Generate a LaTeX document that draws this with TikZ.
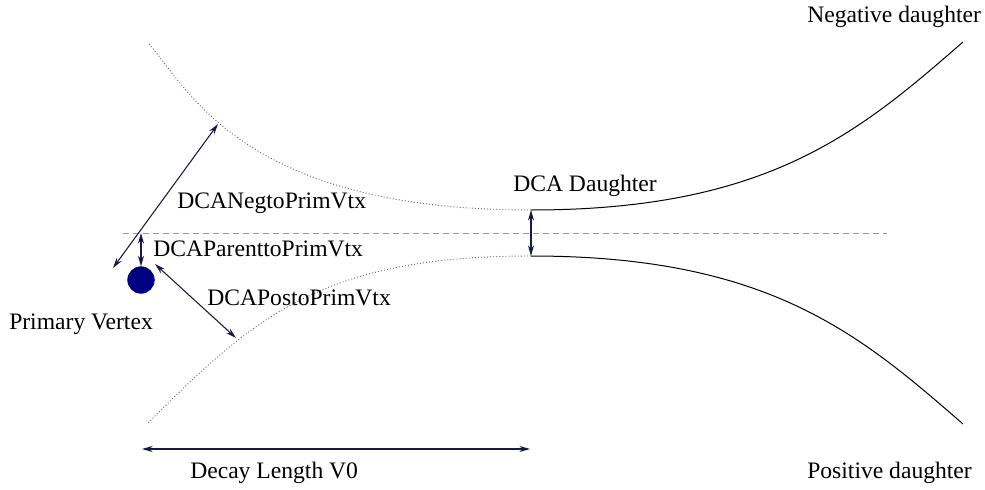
\documentclass[tikz,border=0pt]{standalone}
\usepackage{fontspec}
\setmainfont{Liberation Serif}
\usetikzlibrary{arrows.meta}
\definecolor{arrowcol}{rgb}{0.1,0.1,0.28}
\definecolor{vtxcol}{rgb}{0,0,0.5}
\begin{document}
\begin{tikzpicture}[x=0.75pt,y=-0.75pt,
  lbl/.style={font=\fontsize{17.7pt}{20pt}\selectfont, inner sep=0pt, anchor=base west},
  dca/.style={draw=arrowcol, line width=0.8pt, {Stealth[length=8pt,width=4.5pt]}-{Stealth[length=8pt,width=4.5pt]}},
  track/.style={line width=0.75pt},
  ext/.style={draw=black!60, line width=0.7pt, dash pattern=on 0.7pt off 1.6pt},
  axis/.style={draw=gray!80, line width=0.6pt, dash pattern=on 4.5pt off 3pt}]
\useasboundingbox (0,0) rectangle (985,489);
% track end points
\coordinate (n0) at (531,210);
\coordinate (n1) at (963,42);
\coordinate (p0) at (531,256);
\coordinate (p1) at (963,424);
\coordinate (ne) at (148,43);
\coordinate (pe) at (148,423);
% axis
\coordinate (axl) at (123,233);
\coordinate (axr) at (887,233);
\draw[axis] (axl) -- (axr);
% daughter tracks
\draw[track] (n0) .. controls (768,210) and (859,132.5) .. (n1);
\draw[track] (p0) .. controls (768,256) and (859,333.5) .. (p1);
% extrapolations
\draw[ext] (n0) .. controls (240,210) and (188,87) .. (ne);
\draw[ext] (p0) .. controls (321,256) and (253,318) .. (pe);
% primary vertex
\node[circle, fill=vtxcol, draw=vtxcol!70!black, minimum size=20pt, inner sep=0pt] (pv) at (141,280) {};
% DCA arrows
\draw[dca] (n0) -- (p0);
\coordinate (axv) at (141,233);
\draw[dca] (axv) -- (pv.north);
\coordinate (nega) at (113,268);
\coordinate (negb) at (218,124);
\draw[dca] (nega) -- (negb);
\coordinate (posa) at (155,264);
\coordinate (posb) at (236,338);
\draw[dca] (posa) -- (posb);
\coordinate (dla) at (142,449);
\coordinate (dlb) at (530,449);
\draw[dca] (dla) -- (dlb);
% labels
\node[lbl] (tneg) at (807,22.5) {Negative daughter};
\node[lbl] (tpos) at (807,478) {Positive daughter};
\node[lbl] (tdcad) at (513,191) {DCA Daughter};
\node[lbl] (tnegv) at (177,208) {DCANegtoPrimVtx};
\node[lbl] (tpar) at (153,256.5) {DCAParenttoPrimVtx};
\node[lbl] (tposv) at (207,305) {DCAPostoPrimVtx};
\node[lbl] (tpv) at (9,329) {Primary Vertex};
\node[lbl] (tdl) at (190,478) {Decay Length V0};
\end{tikzpicture}
\end{document}
